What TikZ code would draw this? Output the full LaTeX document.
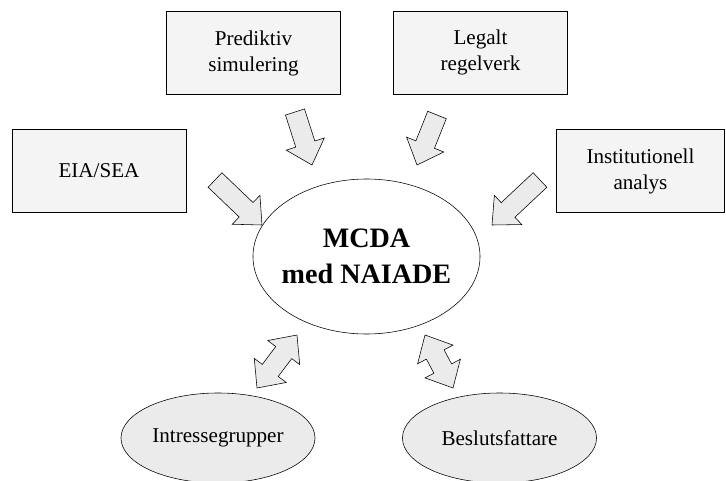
\documentclass[tikz,border=0pt]{standalone}
\usepackage{fontspec}
\setmainfont{Liberation Serif}
\usetikzlibrary{calc,shapes.geometric}
\definecolor{boxgray}{HTML}{F4F4F4}
\definecolor{ellgray}{HTML}{EBEBEB}
\tikzset{source/.style={rectangle, draw, fill=boxgray, minimum width=4.35cm, minimum height=2.07cm, align=center, font=\fontsize{15}{18.5}\selectfont}}
\tikzset{actor/.style={ellipse, draw, fill=ellgray, minimum width=4.85cm, minimum height=2.25cm, inner sep=-1cm, font=\fontsize{15}{18.5}\selectfont}}
\tikzset{fat/.style={draw, fill=ellgray}}
% block arrow from #1 to #2
\newcommand{\fatarrow}[2]{
  \coordinate (hd) at ($(#2)!0.55cm!(#1)$);
  \draw[fat] ($(#1)!0.25cm!90:(#2)$) -- ($(hd)!0.25cm!90:(#2)$) -- ($(hd)!0.5cm!90:(#2)$) -- (#2)
    -- ($(hd)!0.5cm!-90:(#2)$) -- ($(hd)!0.25cm!-90:(#2)$) -- ($(#1)!0.25cm!-90:(#2)$) -- cycle;}
% double block arrow between #1 and #2
\newcommand{\fatboth}[2]{
  \coordinate (ha) at ($(#1)!0.55cm!(#2)$);
  \coordinate (hb) at ($(#2)!0.55cm!(#1)$);
  \draw[fat] (#1) -- ($(ha)!0.5cm!90:(#2)$) -- ($(ha)!0.25cm!90:(#2)$) -- ($(hb)!0.25cm!-90:(#1)$)
    -- ($(hb)!0.5cm!-90:(#1)$) -- (#2) -- ($(hb)!0.5cm!90:(#1)$) -- ($(hb)!0.25cm!90:(#1)$)
    -- ($(ha)!0.25cm!-90:(#2)$) -- ($(ha)!0.5cm!-90:(#2)$) -- cycle;}

\begin{document}
\begin{tikzpicture}[x=0.025cm,y=-0.025cm]
  \useasboundingbox (0,0) rectangle (726,481);
  \node[source] (pred) at (253.5,53) {Prediktiv\\simulering};
  \node[source] (legal) at (480.5,52.5) {Legalt\\regelverk};
  \node[source] (eia) at (99,170.5) {EIA/SEA};
  \node[source, minimum width=4.2cm] (inst) at (640.5,171) {Institutionell\\analys};
  \node[ellipse, draw, fill=white, minimum width=5.675cm, minimum height=3.875cm, inner sep=-1cm,
        align=center, font=\fontsize{20}{26}\selectfont\bfseries] (mcda) at (366.5,256.5) {MCDA\\med NAIADE};
  \node[actor] (intr) at (218,438) {Intressegrupper};
  \node[actor] (besl) at (499.5,438) {Beslutsfattare};

  % ends of the block arrows
  \coordinate (a1) at (295,112); \coordinate (b1) at (312,165);
  \coordinate (a2) at (437,115); \coordinate (b2) at (417,165);
  \coordinate (a3) at (215,180); \coordinate (b3) at (262,225);
  \coordinate (a4) at (540,180); \coordinate (b4) at (492,225);
  \coordinate (a5) at (297,335); \coordinate (b5) at (257,388);
  \coordinate (a6) at (425,335); \coordinate (b6) at (453,388);
  \fatarrow{a1}{b1}
  \fatarrow{a2}{b2}
  \fatarrow{a3}{b3}
  \fatarrow{a4}{b4}
  \fatboth{a5}{b5}
  \fatboth{a6}{b6}
\end{tikzpicture}
\end{document}
